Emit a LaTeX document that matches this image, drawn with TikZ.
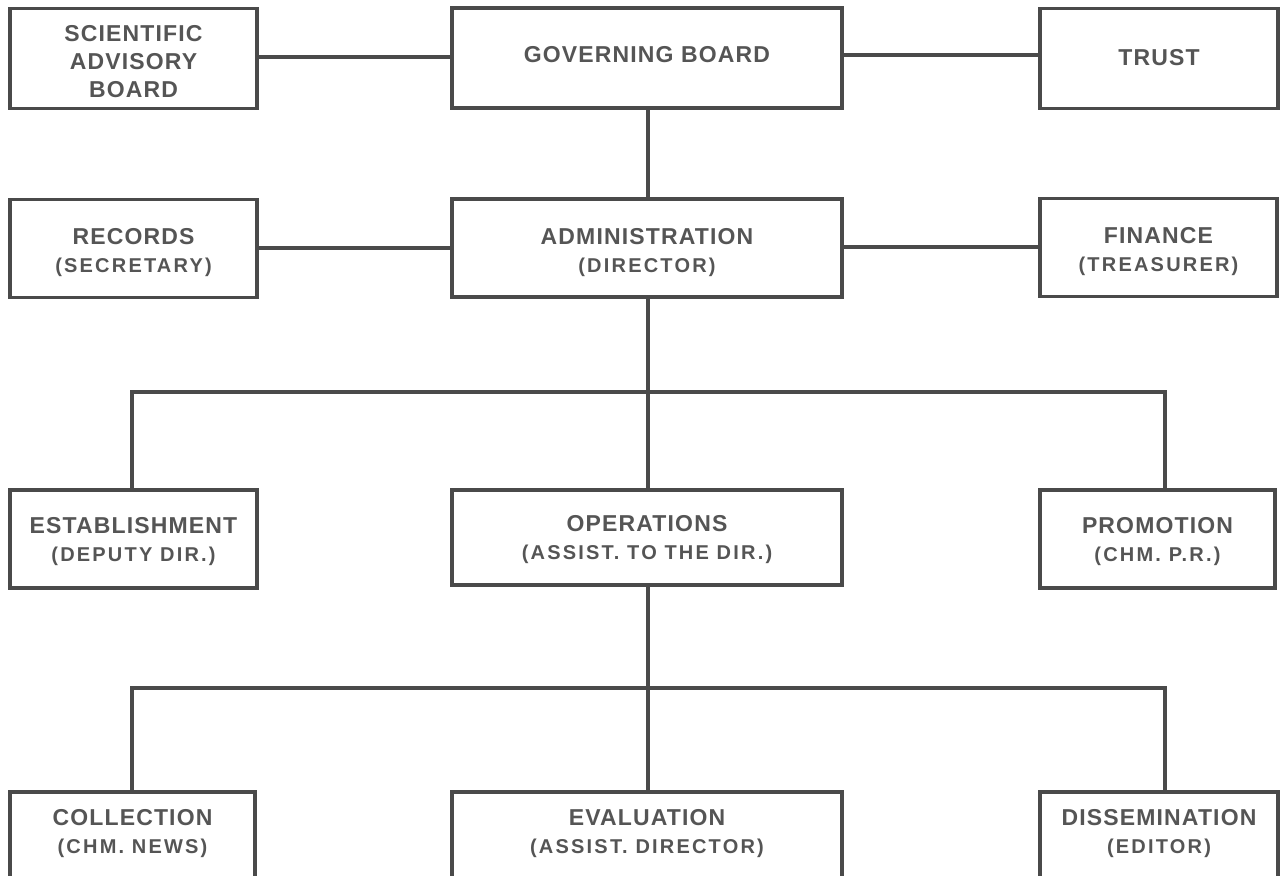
\documentclass[tikz,border=0pt]{standalone}
\usepackage{fontspec}
\newfontfamily\mainf{Liberation Sans}[LetterSpace=5]
\newfontfamily\subf{Liberation Sans}[LetterSpace=11]
\definecolor{ink}{HTML}{4A4A4A}
\definecolor{txt}{HTML}{555555}
\newcommand{\sub}[1]{{\subf\bfseries\fontsize{20}{28}\selectfont #1}}
\tikzset{
  orgbox/.style={draw=ink, line width=3.8pt, rectangle, inner sep=0pt, text=txt,
    align=center, font=\mainf\bfseries\fontsize{23}{28}\selectfont},
  lbl/.style={inner sep=0pt, text=txt, align=center,
    font=\mainf\bfseries\fontsize{23}{28}\selectfont, text height=44.5pt, text depth=4.2pt},
  link/.style={draw=ink, line width=3.2pt}
}
\begin{document}
\begin{tikzpicture}[x=1pt,y=-1pt]
\useasboundingbox (0,0) rectangle (1281,875);
\fill[white] (0,0) rectangle (1281,875);
\clip (0,0) rectangle (1281,875);
% row 1
\node[orgbox, minimum width=247, minimum height=100, text height=77pt, text depth=0pt] (sab) at (133.5,58.5)
  {\fontsize{23}{27}\selectfont SCIENTIFIC\\ADVISORY\\BOARD};
\node[orgbox, minimum width=390, minimum height=100, text height=16.5pt, text depth=6.5pt] (gov) at (647,58) {GOVERNING BOARD};
\node[orgbox, minimum width=238, minimum height=100, text height=16.5pt, text depth=3.5pt] (trust) at (1159,58.5) {TRUST};
% row 2
\node[orgbox, minimum width=247, minimum height=98, text height=52.5pt, text depth=4.2pt] (rec) at (133.5,248.5)
  {RECORDS\\\sub{(SECRETARY)}};
\node[orgbox, minimum width=390, minimum height=98, text height=52.5pt, text depth=4.2pt] (adm) at (647,248)
  {ADMINISTRATION\\\sub{(DIRECTOR)}};
\node[orgbox, minimum width=237, minimum height=98, text height=52.5pt, text depth=4.2pt] (fin) at (1158.5,247.5)
  {FINANCE\\\sub{(TREASURER)}};
% row 3
\node[orgbox, minimum width=247, minimum height=98, text height=48.5pt, text depth=4.2pt] (est) at (133.5,539)
  {ESTABLISHMENT\\\sub{(DEPUTY DIR.)}};
\node[orgbox, minimum width=390, minimum height=95, text height=48.5pt, text depth=4.2pt] (ops) at (647,537.5)
  {OPERATIONS\\\sub{(ASSIST. TO THE DIR.)}};
\node[orgbox, minimum width=235, minimum height=98, text height=48.5pt, text depth=4.2pt] (prom) at (1157.5,539)
  {PROMOTION\\\sub{(CHM. P.R.)}};
% row 4 (cut off by the lower edge)
\node[orgbox, minimum width=245, minimum height=100, anchor=north] (col) at (132.5,790) {};
\node[orgbox, minimum width=390, minimum height=100, anchor=north] (eval) at (647,790) {};
\node[orgbox, minimum width=238, minimum height=100, anchor=north] (diss) at (1159,790) {};
\node[lbl] (colt) at (132.5,833) {COLLECTION\\\sub{(CHM. NEWS)}};
\node[lbl] (evalt) at (647,833) {EVALUATION\\\sub{(ASSIST. DIRECTOR)}};
\node[lbl] (disst) at (1159,833) {DISSEMINATION\\\sub{(EDITOR)}};
% buses
\coordinate (busA) at (648,392);
\coordinate (busB) at (648,688);
% connectors
\draw[link] (sab.east |- 0,57) -- (gov.west |- 0,57);
\draw[link] (gov.east |- 0,55) -- (trust.west |- 0,55);
\draw[link] (gov.south -| 648,0) -- (adm.north -| 648,0);
\draw[link] (rec.east |- 0,248) -- (adm.west |- 0,248);
\draw[link] (adm.east |- 0,247) -- (fin.west |- 0,247);
\draw[link] (adm.south -| busA) -- (busA);
\draw[link, line cap=rect] (est.north -| 132,0) -- (132,392) -- (1165,392) -- (prom.north -| 1165,0);
\draw[link] (busA) -- (ops.north -| busA);
\draw[link] (ops.south -| busB) -- (busB);
\draw[link, line cap=rect] (col.north -| 132,0) -- (132,688) -- (1165,688) -- (diss.north -| 1165,0);
\draw[link] (busB) -- (eval.north -| busB);
\end{tikzpicture}
\end{document}
